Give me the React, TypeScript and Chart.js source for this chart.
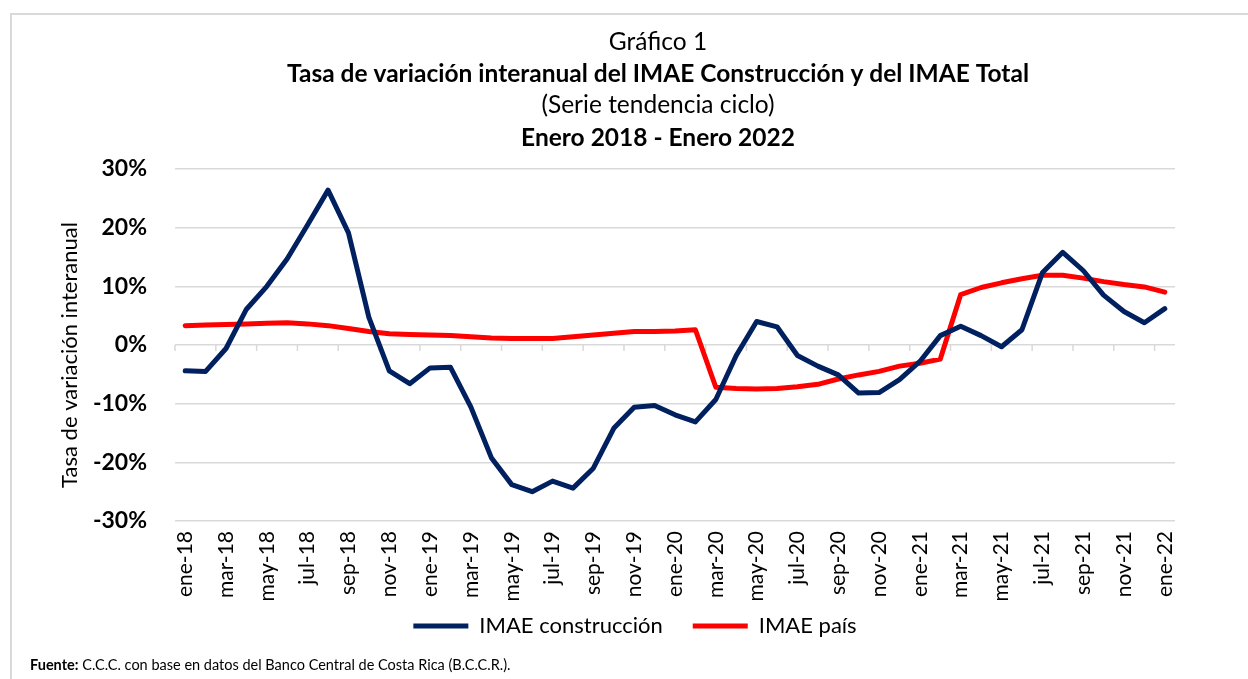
import React, { useEffect, useRef } from 'react';
import { Chart, registerables } from 'chart.js';

Chart.register(...registerables);

const FONT = 'Lato, "Open Sans", sans-serif';

const months = [
  'ene-18', 'feb-18', 'mar-18', 'abr-18', 'may-18', 'jun-18', 'jul-18', 'ago-18', 'sep-18', 'oct-18', 'nov-18', 'dic-18',
  'ene-19', 'feb-19', 'mar-19', 'abr-19', 'may-19', 'jun-19', 'jul-19', 'ago-19', 'sep-19', 'oct-19', 'nov-19', 'dic-19',
  'ene-20', 'feb-20', 'mar-20', 'abr-20', 'may-20', 'jun-20', 'jul-20', 'ago-20', 'sep-20', 'oct-20', 'nov-20', 'dic-20',
  'ene-21', 'feb-21', 'mar-21', 'abr-21', 'may-21', 'jun-21', 'jul-21', 'ago-21', 'sep-21', 'oct-21', 'nov-21', 'dic-21',
  'ene-22',
];

const imaeConstruccion = [
  -4.4, -4.5, -0.6, 6.1, 10.0, 14.7, 20.5, 26.4, 19.1, 4.7, -4.4, -6.6,
  -3.9, -3.8, -10.6, -19.2, -23.8, -25.0, -23.2, -24.4, -21.0, -14.2, -10.6, -10.3,
  -11.9, -13.1, -9.3, -1.8, 4.0, 3.1, -1.8, -3.6, -5.1, -8.2, -8.1, -5.9,
  -2.8, 1.6, 3.2, 1.6, -0.3, 2.6, 12.3, 15.8, 12.7, 8.5, 5.7, 3.8,
  6.2,
];

const imaePais = [
  3.3, 3.4, 3.5, 3.6, 3.7, 3.8, 3.6, 3.3, 2.8, 2.3, 1.9, 1.8,
  1.7, 1.6, 1.4, 1.2, 1.1, 1.1, 1.1, 1.4, 1.7, 2.0, 2.3, 2.3,
  2.4, 2.6, -7.2, -7.4, -7.5, -7.4, -7.1, -6.7, -5.8, -5.1, -4.5, -3.6,
  -3.1, -2.4, 8.6, 9.8, 10.6, 11.3, 11.9, 11.9, 11.4, 10.8, 10.3, 9.9,
  9.0,
];

const seriesNames = ['IMAE construcción', 'IMAE país'];
const seriesColors = ['#002060', '#FF0000'];
const yMin = -30;
const yMax = 30;
const yStep = 10;

const titleLines = [
  { text: 'Gráfico 1', bold: false },
  { text: 'Tasa de variación interanual del IMAE Construcción y del IMAE Total', bold: true },
  { text: '(Serie tendencia ciclo)', bold: false },
  { text: 'Enero 2018 - Enero 2022', bold: true },
];
const yAxisTitle = 'Tasa de variación interanual';
const sourceLabel = 'Fuente:';
const sourceText = ' C.C.C. con base en datos del Banco Central de Costa Rica (B.C.C.R.).';

const W = 1248;
const H = 679;

const decorPlugin = {
  id: 'decor',
  beforeDraw(chart: any) {
    const ctx = chart.ctx;
    ctx.save();
    ctx.fillStyle = '#ffffff';
    ctx.fillRect(0, 0, W, H);
    ctx.strokeStyle = '#d9d9d9';
    ctx.lineWidth = 2;
    ctx.strokeRect(11, 14, W + 50, H + 50);

    ctx.fillStyle = '#000000';
    ctx.textAlign = 'center';
    ctx.textBaseline = 'middle';
    const ys = [42, 74, 105, 138];
    titleLines.forEach((l, i) => {
      ctx.font = `${l.bold ? 'bold ' : ''}24.5px ${FONT}`;
      ctx.fillText(l.text, 658, ys[i]);
    });

    // y axis title
    ctx.save();
    ctx.translate(70, 355);
    ctx.rotate(-Math.PI / 2);
    ctx.font = `22px ${FONT}`;
    ctx.fillText(yAxisTitle, 0, 0);
    ctx.restore();

    ctx.textAlign = 'left';
    ctx.font = `bold 14.5px ${FONT}`;
    ctx.fillText(sourceLabel, 30, 665);
    const w = ctx.measureText(sourceLabel).width;
    ctx.font = `14.5px ${FONT}`;
    ctx.fillText(sourceText, 30 + w, 665);
    ctx.restore();
  },
  beforeDatasetsDraw(chart: any) {
    const ctx = chart.ctx;
    const x = chart.scales.x;
    const y = chart.scales.y;
    const y0 = y.getPixelForValue(0);
    const n = months.length;
    const step = (x.right - x.left) / n;
    ctx.save();
    ctx.strokeStyle = '#d9d9d9';
    ctx.lineWidth = 1.5;
    ctx.beginPath();
    for (let i = 0; i <= n; i += 2) {
      const px = x.left + i * step;
      ctx.moveTo(px, y0);
      ctx.lineTo(px, y0 + 6);
    }
    ctx.stroke();
    ctx.restore();
  },
  afterLayout(chart: any) {
    const lg = chart.legend;
    if (lg) {
      const dx = 20;
      const dy = -19;
      lg.left += dx;
      lg.right += dx;
      lg.top += dy;
      lg.bottom += dy;
    }
  },
};

export default function App() {
  const ref = useRef<HTMLCanvasElement | null>(null);

  useEffect(() => {
    if (!ref.current) return;
    const chart = new Chart(ref.current, {
      type: 'line',
      data: {
        labels: months,
        datasets: [
          {
            label: seriesNames[0],
            data: imaeConstruccion,
            borderColor: seriesColors[0],
            backgroundColor: seriesColors[0],
            borderWidth: 5,
            pointRadius: 0,
            tension: 0,
            borderCapStyle: 'round',
            borderJoinStyle: 'round',
          },
          {
            label: seriesNames[1],
            data: imaePais,
            borderColor: seriesColors[1],
            backgroundColor: seriesColors[1],
            borderWidth: 5,
            pointRadius: 0,
            tension: 0,
            borderCapStyle: 'round',
            borderJoinStyle: 'round',
          },
        ],
      },
      options: {
        responsive: false,
        animation: false,
        layout: { padding: { left: 55, top: 169, right: 73, bottom: 13 } },
        plugins: {
          title: { display: false },
          tooltip: { enabled: false },
          legend: {
            display: true,
            position: 'bottom',
            labels: {
              usePointStyle: true,
              pointStyle: 'line',
              pointStyleWidth: 55,
              boxHeight: 20,
              padding: 30,
              color: '#000000',
              font: { family: FONT, size: 22 },
            },
          },
        },
        scales: {
          x: {
            offset: true,
            grid: { display: false, drawTicks: false },
            border: { display: false },
            ticks: {
              autoSkip: false,
              minRotation: 90,
              maxRotation: 90,
              padding: 10,
              color: '#000000',
              font: { family: FONT, size: 21 },
              callback: (_v: any, i: number) => (i % 2 === 0 ? months[i] : ''),
            },
            afterFit: (s: any) => {
              s.height = 83;
            },
          },
          y: {
            min: yMin,
            max: yMax,
            grid: { color: '#d9d9d9', lineWidth: 1.5, drawTicks: false },
            border: { display: false },
            ticks: {
              stepSize: yStep,
              padding: 28,
              color: '#000000',
              font: { family: FONT, size: 23, weight: 'bold' },
              callback: (v: any) => `${v}%`,
            },
            title: { display: false },
            afterFit: (s: any) => {
              s.width = 120;
            },
          },
        },
      },
      plugins: [decorPlugin],
    });
    return () => chart.destroy();
  }, []);

  return (
    <div style={{ position: 'fixed', left: 0, top: 0, width: W, height: H, background: '#fff' }}>
      <canvas ref={ref} width={W} height={H} style={{ width: W, height: H, display: 'block' }} />
    </div>
  );
}
